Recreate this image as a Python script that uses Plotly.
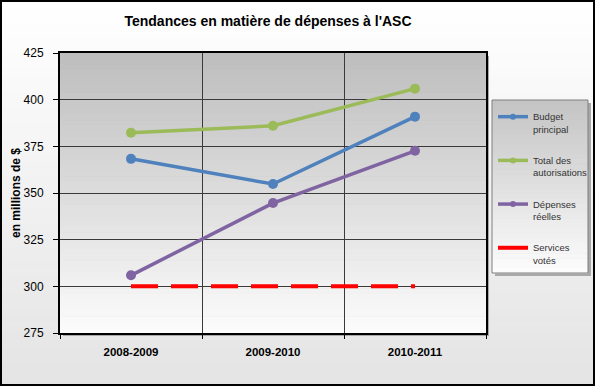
import plotly.graph_objects as go

# ---- data ----
years = ["2008-2009", "2009-2010", "2010-2011"]
budget_principal = [368.3, 354.8, 390.9]
total_autorisations = [382.3, 386.0, 405.9]
depenses_reelles = [305.9, 344.6, 372.6]
services_votes = [300, 300, 300]

W, H = 595, 386
L, R, T, B = 60, 486, 53, 333  # plot area in pixels
PW, PH = R - L, B - T


def px(x):
    return (x - L) / PW


def py(y):
    return (B - y) / PH


def lerp_color(c0, c1, t):
    return "rgb(%d,%d,%d)" % tuple(round(a + (b - a) * t) for a, b in zip(c0, c1))


shapes = []


def gradient(x0, y0, x1, y1, c_top, c_bot, n):
    h = (y1 - y0) / n
    for i in range(n):
        t = i / (n - 1)
        shapes.append(dict(type="rect", xref="paper", yref="paper",
                           x0=px(x0), x1=px(x1), y0=py(y0 + i * h), y1=py(y0 + (i + 1) * h + 0.6),
                           fillcolor=lerp_color(c_top, c_bot, t), line=dict(width=0), layer="below"))


# outer background
gradient(0, 0, W, H, (255, 255, 255), (228, 228, 228), 50)
# plot area shadow + gradient
shapes.append(dict(type="rect", xref="paper", yref="paper", x0=px(L + 3), x1=px(R + 3), y0=py(B + 3), y1=py(T + 3),
                   fillcolor="#a8a8a8", line=dict(width=0), layer="below"))
gradient(L, T, R, B, (190, 190, 190), (251, 251, 251), 50)
# legend box shadow + gradient + border
LX0, LY0, LX1, LY1 = 492, 100, 588, 273
shapes.append(dict(type="rect", xref="paper", yref="paper", x0=px(LX0 + 3), x1=px(LX1 + 3), y0=py(LY1 + 3), y1=py(LY0 + 3),
                   fillcolor="#a8a8a8", line=dict(width=0), layer="below"))
gradient(LX0, LY0, LX1, LY1, (196, 196, 196), (252, 252, 252), 35)
shapes.append(dict(type="rect", xref="paper", yref="paper", x0=px(LX0), x1=px(LX1), y0=py(LY1), y1=py(LY0),
                   fillcolor="rgba(0,0,0,0)", line=dict(color="#7f7f7f", width=1), layer="below"))
# outer frame
shapes.append(dict(type="rect", xref="paper", yref="paper", x0=px(1), x1=px(W - 1), y0=py(H - 1), y1=py(1),
                   fillcolor="rgba(0,0,0,0)", line=dict(color="black", width=2), layer="above"))

fig = go.Figure()

series = [
    ("Budget<br>principal", budget_principal, "#4f81bd"),
    ("Total des<br>autorisations", total_autorisations, "#9bbb59"),
    ("Dépenses<br>réelles", depenses_reelles, "#8064a2"),
]
for i, (name, vals, col) in enumerate(series):
    fig.add_trace(go.Scatter(x=years, y=vals, name=name, mode="lines+markers",
                             line=dict(color=col, width=3.5), marker=dict(size=10, color=col),
                             showlegend=False))

fig.add_trace(go.Scatter(x=years, y=services_votes, name="Services<br>votés", mode="lines",
                         line=dict(color="#ff0000", width=4, dash="27px,13px"), showlegend=False))

# legend-only entries (small markers as in the reference legend)
for i, (name, vals, col) in enumerate(series):
    fig.add_trace(go.Scatter(x=[None], y=[None], name=name, mode="lines+markers",
                             line=dict(color=col, width=3.5), marker=dict(size=6, color=col),
                             legendgroup="g%d" % i))
fig.add_trace(go.Scatter(x=[None], y=[None], name="Services<br>votés", mode="lines",
                         line=dict(color="#ff0000", width=4), legendgroup="g3"))

fig.update_layout(
    width=W, height=H,
    margin=dict(l=L, r=W - R, t=T, b=H - B, autoexpand=False),
    paper_bgcolor="white",
    plot_bgcolor="rgba(0,0,0,0)",
    font=dict(family="Liberation Sans, Arial, sans-serif", color="black", size=11),
    title=dict(text="<b>Tendances en matière de dépenses à l'ASC</b>", x=268 / W, xanchor="center",
               y=1 - 21 / H, yanchor="middle", font=dict(size=14, color="black")),
    shapes=shapes,
    showlegend=True,
    legend=dict(x=px(LX0 + 1), y=py(LY0 + 4), xanchor="left", yanchor="top",
                bgcolor="rgba(0,0,0,0)", borderwidth=0, font=dict(size=9.5, color="#333"),
                tracegroupgap=16, valign="top", itemwidth=30),
    hovermode=False,
)

fig.update_xaxes(type="category", tickson="boundaries", showgrid=True, gridcolor="#3a3a3a", gridwidth=1,
                 showline=True, linecolor="black", linewidth=2, mirror=True,
                 ticks="outside", ticklen=4, tickcolor="black",
                 tickfont=dict(size=11.5, color="black", family="Liberation Sans, Arial, sans-serif"),
                 tickprefix="<b>", ticksuffix="</b>", ticklabelstandoff=7, range=[-0.5, 2.5])
fig.update_yaxes(range=[275, 425], dtick=25, tick0=275, showgrid=True, gridcolor="#3a3a3a", gridwidth=1,
                 showline=True, linecolor="black", linewidth=2, mirror=True,
                 ticks="outside", ticklen=5, tickcolor="black", zeroline=False,
                 tickfont=dict(size=12, color="black"), ticklabelstandoff=7,
                 title=dict(text="<b>en millions de $</b>", font=dict(size=12, color="black"), standoff=0))

fig.write_html("out.html", config={"displayModeBar": False},
               post_script="document.body.style.margin='0';document.body.style.overflow='hidden';")
